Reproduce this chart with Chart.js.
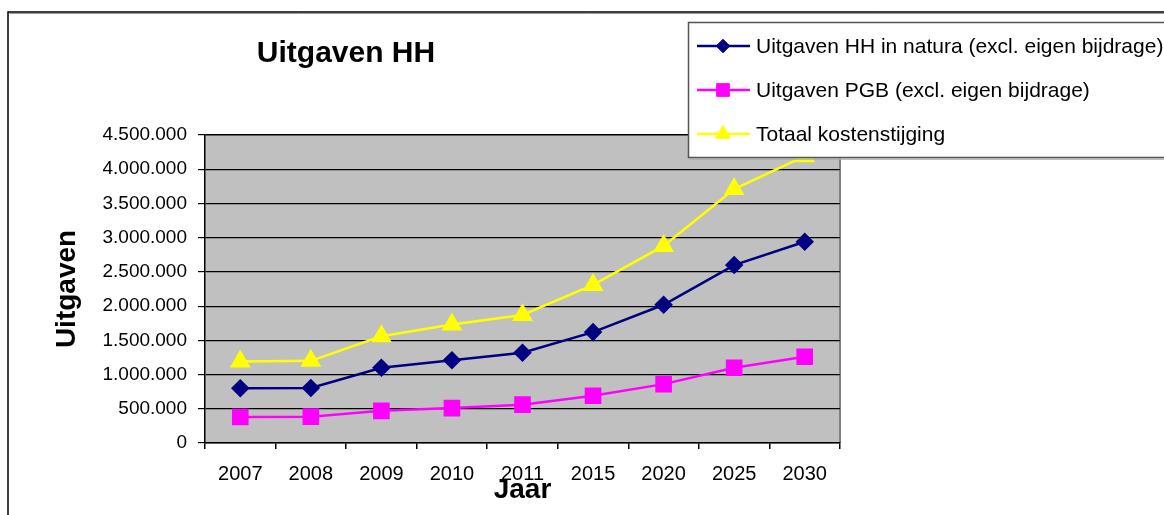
<!DOCTYPE html>
<html><head><meta charset="utf-8">
<script src="https://cdn.jsdelivr.net/npm/chart.js@4.4.0/dist/chart.umd.min.js"></script>
<style>html,body{margin:0;padding:0;background:#fff;overflow:hidden}#wrap{width:1164px;height:515px;position:relative}</style>
</head><body><div id="wrap"><canvas id="c" width="1164" height="515"></canvas></div>
<script>
const categories = ['2007','2008','2009','2010','2011','2015','2020','2025','2030'];
const uitgavenHH = [800000, 805000, 1100000, 1210000, 1320000, 1620000, 2020000, 2600000, 2940000];
const uitgavenPGB = [380000, 385000, 470000, 510000, 560000, 690000, 860000, 1100000, 1260000];
const totaalKosten = [1190000, 1200000, 1560000, 1730000, 1870000, 2310000, 2880000, 3710000, 4190000];
const yTickValues = [0, 500000, 1000000, 1500000, 2000000, 2500000, 3000000, 3500000, 4000000, 4500000];
const seriesLabels = ['Uitgaven HH in natura (excl. eigen bijdrage)', 'Uitgaven PGB (excl. eigen bijdrage)', 'Totaal kostenstijging'];
const chartTitle = 'Uitgaven HH';
const xTitle = 'Jaar';
const yTitle = 'Uitgaven';

const FAM = '"Liberation Sans", Arial, Helvetica, sans-serif';
function fmt(v){ return String(Math.round(v)).replace(/\B(?=(\d{3})+(?!\d))/g, '.'); }

const bgPlugin = {
  id: 'bg',
  beforeDraw(chart){
    const ctx = chart.ctx, a = chart.chartArea;
    ctx.save();
    ctx.fillStyle = '#fff';
    ctx.fillRect(0,0,chart.width,chart.height);
    ctx.strokeStyle = '#000'; ctx.lineWidth = 1.5;
    ctx.beginPath(); ctx.moveTo(8, chart.height+2); ctx.lineTo(8, 12); ctx.lineTo(chart.width+2, 12); ctx.stroke();
    ctx.strokeStyle = '#999'; ctx.lineWidth = 1;
    ctx.beginPath(); ctx.moveTo(9.5, 13.5); ctx.lineTo(chart.width+2, 13.5); ctx.stroke();
    ctx.fillStyle = '#C0C0C0';
    ctx.fillRect(a.left, a.top, a.right - a.left, a.bottom - a.top);
    ctx.strokeStyle = '#808080'; ctx.lineWidth = 2;
    ctx.beginPath(); ctx.moveTo(a.left, a.top); ctx.lineTo(a.right, a.top); ctx.lineTo(a.right, a.bottom); ctx.stroke();
    ctx.restore();
  }
};

const overlayPlugin = {
  id: 'overlay',
  afterDraw(chart){
    const ctx = chart.ctx;
    ctx.save();
    ctx.fillStyle = '#000';
    ctx.font = 'bold 30px ' + FAM;
    ctx.textAlign = 'center'; ctx.textBaseline = 'alphabetic';
    ctx.fillText(chartTitle, 346, 62);
    ctx.fillStyle = '#fff';
    ctx.fillRect(688, 22, 600, 135);
    ctx.strokeStyle = '#555'; ctx.lineWidth = 1.5;
    ctx.strokeRect(688.5, 22.5, 600, 135);
    ctx.strokeStyle = '#aaa'; ctx.lineWidth = 1.5;
    ctx.beginPath(); ctx.moveTo(690, 159); ctx.lineTo(1170, 159); ctx.stroke();
    const rows = [46, 90, 134];
    chart.data.datasets.forEach((ds, i) => {
      const y = rows[i];
      ctx.strokeStyle = ds.borderColor; ctx.lineWidth = 2.5;
      ctx.beginPath(); ctx.moveTo(697, y); ctx.lineTo(750, y); ctx.stroke();
      ctx.fillStyle = ds.backgroundColor; ctx.strokeStyle = ds.borderColor; ctx.lineWidth = 1;
      Chart.helpers.drawPoint(ctx, {pointStyle: ds.pointStyle, radius: ds.pointRadius * 0.9, rotation: 0, borderWidth: 1}, 723, y);
      ctx.fillStyle = '#000';
      ctx.font = '21px ' + FAM;
      ctx.textAlign = 'left'; ctx.textBaseline = 'middle';
      ctx.fillText(ds.label, 756, y + 1);
    });
    ctx.restore();
  }
};

const ctx = document.getElementById('c').getContext('2d');
new Chart(ctx, {
  type: 'line',
  data: {
    labels: categories,
    datasets: [
      {label: seriesLabels[0], data: uitgavenHH, borderColor: '#000080', backgroundColor: '#000080', pointBackgroundColor:'#000080', pointBorderColor:'#000080', pointStyle: 'rectRot', pointRadius: 7.5, borderWidth: 2.5, tension: 0},
      {label: seriesLabels[1], data: uitgavenPGB, borderColor: '#FF00FF', backgroundColor: '#FF00FF', pointBackgroundColor:'#FF00FF', pointBorderColor:'#FF00FF', pointStyle: 'rect', pointRadius: 10, borderWidth: 2.5, tension: 0},
      {label: seriesLabels[2], data: totaalKosten, borderColor: '#FFFF00', backgroundColor: '#FFFF00', pointBackgroundColor:'#FFFF00', pointBorderColor:'#FFFF00', pointStyle: 'triangle', pointRadius: 9.5, borderWidth: 2.5, tension: 0}
    ]
  },
  options: {
    responsive: false, animation: false, devicePixelRatio: 1,
    layout: {padding: {left: 0, top: 135, right: 324, bottom: 0}},
    plugins: {legend: {display: false}, title: {display: false}, tooltip: {enabled: false}},
    scales: {
      x: {
        type: 'category', offset: true,
        grid: {offset: true, drawOnChartArea: false, drawTicks: true, tickLength: 6, color: '#000', lineWidth: 1.5},
        border: {color: '#000', width: 1.5},
        ticks: {font: {size: 20, family: FAM}, color: '#000', padding: 13, maxRotation: 0, autoSkip: false},
        title: {display: true, text: xTitle, font: {size: 28, weight: 'bold', family: FAM}, color: '#000', padding: {top: 0, bottom: 8}},
        afterFit(s){ s.height = 72; }
      },
      y: {
        min: 0, max: 4500000,
        afterBuildTicks(s){ s.ticks = yTickValues.map(v => ({value: v})); },
        ticks: {callback: v => fmt(v), font: {size: 19, family: FAM}, color: '#000', padding: 11},
        grid: {color: '#000', lineWidth: 1.2, tickLength: 7},
        border: {color: '#000', width: 1.5},
        title: {display: true, text: yTitle, font: {size: 28, weight: 'bold', family: FAM}, color: '#000', padding: {top: 50, bottom: 0}},
        afterFit(s){ s.width = 205; }
      }
    }
  },
  plugins: [bgPlugin, overlayPlugin]
});
</script></body></html>
